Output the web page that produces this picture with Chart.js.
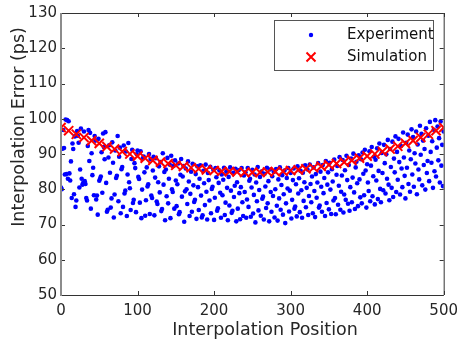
<!DOCTYPE html>
<html lang="en">
<head>
<meta charset="UTF-8">
<title>Interpolation Error</title>
<script src="https://cdn.jsdelivr.net/npm/chart.js@4.4.1/dist/chart.umd.min.js"></script>
<style>
    * { margin: 0; padding: 0; }
    body { background: #fff; }
    #box { position: relative; width: 465px; height: 350px; }
</style>
</head>
<body>
<div id="box"><canvas id="c"></canvas></div>
<script>
    // measured error, one sample per interpolation position 0..500
    const expValues = [
        80.5, 80.0, 91.5, 96.8, 91.7, 84.2, 99.8, 84.3, 99.6, 83.0,
        99.3, 84.5, 82.5, 87.9, 77.5, 93.0, 91.4, 78.6, 95.0, 75.0,
        76.8, 96.5, 95.2, 93.2, 80.5, 85.6, 97.2, 83.0, 81.3, 81.8,
        96.4, 82.3, 81.5, 77.5, 76.8, 92.3, 96.8, 88.0, 96.0, 74.5,
        90.2, 84.0, 86.1, 78.3, 95.1, 93.8, 77.1, 78.2, 72.8, 94.3,
        82.4, 83.0, 83.6, 90.5, 79.0, 95.8, 92.0, 88.5, 96.2, 81.8,
        73.6, 74.2, 89.0, 92.5, 84.7, 74.8, 77.4, 93.3, 87.5, 72.0,
        78.5, 91.0, 83.2, 83.8, 95.1, 76.6, 89.2, 91.8, 73.2, 85.7,
        86.3, 75.0, 92.4, 78.8, 79.6, 90.7, 72.4, 84.2, 93.1, 82.0,
        80.3, 74.1, 88.6, 91.2, 76.1, 77.0, 87.4, 86.0, 73.5, 89.9,
        91.0, 83.5, 82.9, 76.2, 90.8, 71.8, 79.9, 88.7, 89.3, 84.8,
        72.5, 76.9, 86.2, 80.8, 81.4, 90.0, 73.0, 88.6, 78.2, 77.5,
        85.3, 89.2, 72.6, 83.3, 88.8, 76.5, 75.8, 82.0, 86.5, 79.1,
        87.7, 73.8, 74.4, 90.2, 81.3, 84.9, 71.2, 85.6, 78.0, 88.9,
        76.0, 83.0, 87.0, 71.8, 89.5, 80.0, 79.2, 86.6, 74.5, 88.2,
        82.5, 75.2, 81.4, 87.3, 72.9, 73.5, 84.1, 88.6, 77.9, 83.6,
        86.6, 70.8, 79.4, 85.9, 80.0, 75.8, 87.9, 82.2, 72.4, 78.7,
        85.0, 73.6, 87.2, 81.1, 76.4, 77.0, 84.3, 71.6, 86.5, 80.6,
        74.1, 83.0, 86.8, 78.2, 72.0, 72.6, 85.2, 81.7, 75.5, 87.0,
        79.3, 71.4, 84.6, 82.6, 76.8, 86.4, 73.2, 80.1, 80.7, 85.5,
        71.3, 77.6, 86.0, 83.4, 73.9, 74.6, 81.8, 85.3, 79.0, 71.9,
        84.2, 78.3, 82.7, 86.1, 72.7, 76.2, 85.0, 80.4, 71.2, 83.5,
        75.4, 86.2, 79.6, 73.3, 73.9, 84.7, 77.8, 81.0, 85.8, 70.9,
        82.0, 74.5, 85.4, 78.9, 71.5, 80.6, 86.0, 76.3, 72.4, 83.9,
        79.2, 84.8, 71.9, 77.1, 86.0, 75.0, 82.4, 83.0, 72.2, 80.5,
        85.5, 73.1, 78.4, 84.2, 70.6, 81.9, 76.6, 86.3, 74.0, 79.8,
        83.5, 72.5, 85.0, 77.3, 77.9, 71.4, 84.4, 80.8, 74.7, 86.1,
        76.0, 82.3, 70.9, 85.6, 79.2, 73.6, 83.7, 78.1, 84.9, 72.0,
        80.0, 85.7, 75.3, 71.1, 82.8, 77.4, 86.2, 74.2, 81.2, 84.0,
        72.8, 78.6, 85.3, 70.4, 76.0, 83.2, 80.2, 86.0, 73.7, 79.6,
        84.6, 71.7, 77.0, 82.6, 85.9, 74.5, 75.1, 81.4, 72.3, 86.5,
        78.8, 83.1, 73.5, 85.2, 79.7, 71.9, 84.7, 76.7, 82.0, 86.8,
        74.9, 80.4, 85.6, 72.7, 78.1, 87.0, 81.5, 76.3, 83.6, 73.2,
        86.2, 79.5, 72.1, 84.3, 77.6, 81.9, 87.4, 74.8, 75.4, 85.0,
        80.7, 73.6, 86.9, 78.9, 83.2, 72.4, 88.0, 76.1, 81.3, 84.8,
        74.3, 87.5, 79.9, 73.0, 85.7, 82.2, 76.8, 88.4, 77.5, 72.9,
        84.1, 86.6, 75.6, 81.0, 89.1, 74.2, 79.3, 83.9, 88.3, 73.4,
        78.5, 85.4, 77.0, 89.5, 82.6, 75.9, 86.9, 73.9, 80.6, 88.7,
        76.3, 83.3, 90.1, 79.1, 74.4, 86.2, 87.8, 81.7, 75.2, 89.6,
        82.8, 77.7, 88.5, 76.0, 90.4, 84.4, 78.3, 91.2, 85.3, 74.8,
        87.1, 81.9, 79.5, 90.8, 76.6, 86.7, 92.0, 78.0, 83.7, 89.2,
        75.7, 88.4, 82.5, 91.6, 77.2, 85.2, 93.0, 80.1, 76.3, 90.3,
        84.6, 79.7, 92.6, 87.4, 78.8, 89.9, 83.0, 94.0, 81.3, 76.9,
        91.4, 86.3, 80.4, 93.5, 77.8, 88.7, 84.8, 95.0, 79.2, 90.6,
        82.7, 94.3, 87.7, 78.5, 92.3, 85.9, 80.6, 96.1, 89.0, 83.8,
        77.4, 93.2, 86.1, 95.5, 81.5, 91.0, 79.3, 88.5, 97.0, 84.2,
        94.8, 80.7, 90.2, 87.3, 96.4, 78.6, 92.7, 85.6, 82.8, 98.0,
        89.8, 95.7, 81.1, 93.8, 86.9, 91.4, 79.9, 97.3, 84.6, 88.0,
        95.2, 82.3, 99.1, 90.6, 87.5, 93.6, 80.4, 96.9, 85.1, 99.6,
        83.6, 91.8, 97.8, 88.2, 94.5, 81.9, 99.2, 86.7, 92.6, 80.9,
        96.4
    ]

    // simulated error at every 10th position
    const simPositions = [
        0, 10, 20, 30, 40, 50, 60, 70, 80, 90,
        100, 110, 120, 130, 140, 150, 160, 170, 180, 190,
        200, 210, 220, 230, 240, 250, 260, 270, 280, 290,
        300, 310, 320, 330, 340, 350, 360, 370, 380, 390,
        400, 410, 420, 430, 440, 450, 460, 470, 480, 490, 500
    ]
    const simValues = [
        97.5, 96.6, 95.6, 94.7, 93.8, 93.0, 92.1, 91.4, 90.7, 90.0,
        89.4, 88.8, 88.2, 87.7, 87.3, 86.8, 86.5, 86.1, 85.8, 85.5,
        85.3, 85.1, 85.0, 84.9, 84.8, 84.8, 84.8, 84.9, 85.0, 85.1,
        85.3, 85.5, 85.8, 86.1, 86.5, 86.9, 87.3, 87.7, 88.2, 88.8,
        89.4, 90.0, 90.7, 91.4, 92.2, 93.0, 93.8, 94.7, 95.6, 96.6, 97.5
    ]

    const xTicks = [0, 100, 200, 300, 400, 500]
    const yTicks = [50, 60, 70, 80, 90, 100, 110, 120, 130]
    const xTitle = "Interpolation Position"
    const yTitle = "Interpolation Error (ps)"

    const FONT = "'DejaVu Sans', sans-serif"
    const TEXT = "#262626"

    let expData = expValues.map((v, i) => ({ x: i, y: v }))
    let simData = simValues.map((v, i) => ({ x: simPositions[i], y: v }))

    // frame + inward ticks, matplotlib style
    const framePlugin = {
        id: "frame",
        afterDatasetsDraw(chart) {
            const ctx = chart.ctx
            const a = chart.chartArea
            const xs = chart.scales.x
            const ys = chart.scales.y
            ctx.save()
            ctx.strokeStyle = "#333"
            ctx.lineWidth = 1
            ctx.beginPath()
            xTicks.forEach(t => {
                let px = Math.round(xs.getPixelForValue(t)) + 0.5
                ctx.moveTo(px, a.bottom); ctx.lineTo(px, a.bottom - 4)
                ctx.moveTo(px, a.top); ctx.lineTo(px, a.top + 4)
            })
            yTicks.forEach(t => {
                let py = Math.round(ys.getPixelForValue(t)) + 0.5
                ctx.moveTo(a.left, py); ctx.lineTo(a.left + 4, py)
                ctx.moveTo(a.right, py); ctx.lineTo(a.right - 4, py)
            })
            ctx.stroke()
            ctx.beginPath()
            ctx.moveTo(a.left, a.top + 0.5); ctx.lineTo(a.right, a.top + 0.5)
            ctx.moveTo(a.left, a.bottom + 0.5); ctx.lineTo(a.right, a.bottom + 0.5)
            ctx.moveTo(a.right + 0.5, a.top); ctx.lineTo(a.right + 0.5, a.bottom)
            ctx.stroke()
            ctx.strokeStyle = "#8c8c8c"
            ctx.lineWidth = 2
            ctx.beginPath()
            ctx.moveTo(a.left, a.top); ctx.lineTo(a.left, a.bottom + 1)
            ctx.stroke()
            ctx.restore()
        },
        afterDraw(chart) {
            const ctx = chart.ctx
            const ds = chart.data.datasets
            ctx.save()
            // axis titles
            ctx.fillStyle = TEXT
            ctx.font = "17.5px " + FONT
            ctx.textAlign = "center"
            ctx.textBaseline = "middle"
            ctx.fillText(xTitle, 265, 330)
            ctx.translate(19, 127)
            ctx.rotate(-Math.PI / 2)
            ctx.fillText(yTitle, 0, 0)
            ctx.setTransform(1, 0, 0, 1, 0, 0)
            ctx.textAlign = "left"
            // legend box in the upper right corner
            ctx.fillStyle = "#fff"
            ctx.fillRect(274, 20, 159, 50)
            ctx.strokeStyle = "#555"
            ctx.lineWidth = 1
            ctx.strokeRect(274.5, 20.5, 159, 50)
            ctx.fillStyle = "#0000ff"
            ctx.beginPath()
            ctx.arc(311, 35, 2.2, 0, Math.PI * 2)
            ctx.fill()
            ctx.strokeStyle = "#ff0000"
            ctx.lineWidth = 2
            ctx.beginPath()
            ctx.moveTo(306.5, 52.5); ctx.lineTo(315.5, 61.5)
            ctx.moveTo(315.5, 52.5); ctx.lineTo(306.5, 61.5)
            ctx.stroke()
            ctx.fillStyle = "#111"
            ctx.font = "15px " + FONT
            ctx.fillText(ds[0].label, 347, 35)
            ctx.fillText(ds[1].label, 347, 57)
            ctx.restore()
        }
    }

    new Chart(document.getElementById("c"), {
        type: "scatter",
        data: {
            datasets: [
                {
                    label: "Experiment",
                    data: expData,
                    order: 1,
                    backgroundColor: "#0000ff",
                    borderColor: "#0000ff",
                    pointRadius: 2.3,
                    borderWidth: 0,
                    pointHoverRadius: 2.3
                },
                {
                    label: "Simulation",
                    data: simData,
                    order: 0,
                    pointStyle: "crossRot",
                    borderColor: "#ff0000",
                    backgroundColor: "#ff0000",
                    pointRadius: 6.5,
                    borderWidth: 2,
                    pointHoverRadius: 6.5
                }
            ]
        },
        options: {
            responsive: true,
            maintainAspectRatio: false,
            animation: false,
            layout: { padding: { top: 10, right: 17, left: 0, bottom: 0 } },
            plugins: { legend: { display: false }, tooltip: { enabled: false } },
            scales: {
                x: {
                    type: "linear",
                    min: 0,
                    max: 500,
                    afterFit(s) { s.height = 55 },
                    afterBuildTicks(s) { s.ticks = xTicks.map(v => ({ value: v })) },
                    grid: { display: false, drawTicks: false },
                    border: { display: false },
                    ticks: { color: TEXT, font: { family: FONT, size: 15 }, padding: 7, maxRotation: 0 }
                },
                y: {
                    min: 50,
                    max: 130,
                    afterFit(s) { s.width = 61 },
                    afterBuildTicks(s) { s.ticks = yTicks.map(v => ({ value: v })) },
                    grid: { display: false, drawTicks: false },
                    border: { display: false },
                    ticks: { color: TEXT, font: { family: FONT, size: 15 }, padding: 4 }
                }
            }
        },
        plugins: [framePlugin]
    })
</script>
</body>
</html>
